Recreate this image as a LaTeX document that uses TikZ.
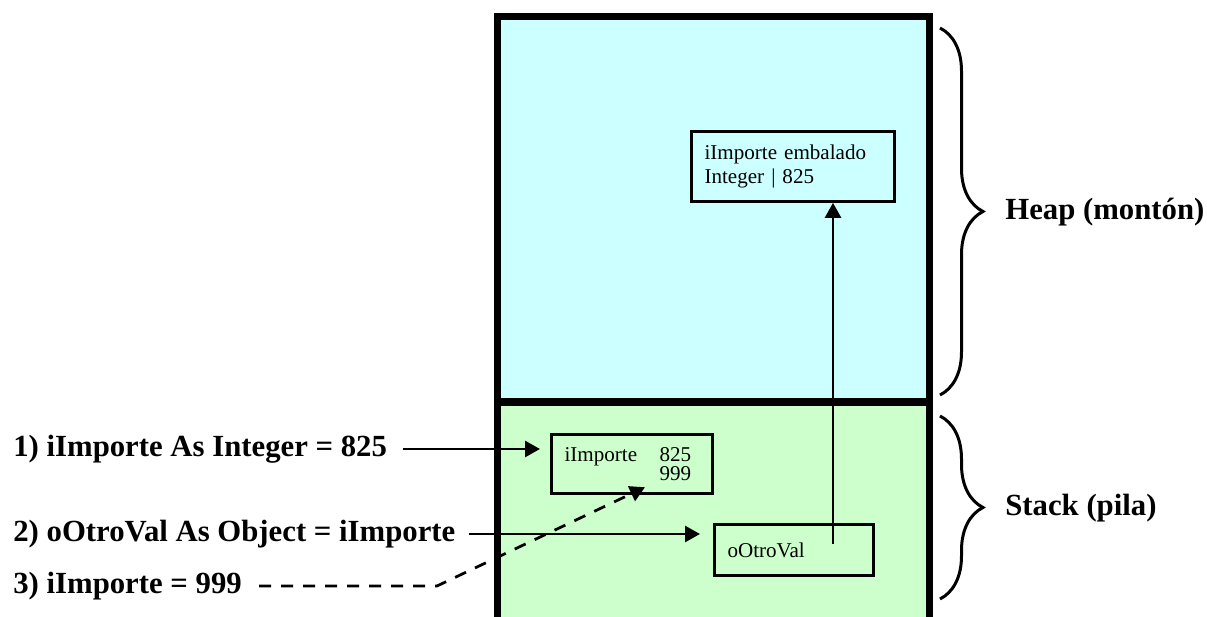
\documentclass[tikz,border=0pt]{standalone}
\usepackage{fontspec}
\setmainfont{Liberation Serif}
\usetikzlibrary{arrows.meta,decorations.pathreplacing}
\definecolor{heapcyan}{RGB}{204,255,255}
\definecolor{stackgreen}{RGB}{204,255,204}

\begin{document}
\begin{tikzpicture}[x=0.02cm,y=-0.02cm,
 region/.style={draw,line width=0.14cm,minimum width=8.64cm,inner sep=0pt},
 cell/.style={draw,line width=0.06cm,inner sep=0.26cm,align=left,font=\fontsize{12}{14}\selectfont},
 lab/.style={anchor=west,inner sep=0pt,font=\fontsize{17.5}{20}\selectfont\bfseries},
 arr/.style={-{Triangle[length=0.3cm,width=0.32cm]},line width=0.055cm},
 brc/.style={decorate,decoration={brace,amplitude=0.86cm},line width=0.06cm}]
\useasboundingbox (0,0) rectangle (1207,617);
% memory regions
\node[region,fill=stackgreen,minimum height=4.56cm] (stack) at (713.5,516) {};
\node[region,fill=heapcyan,minimum height=7.71cm] (heap) at (713.5,209.25) {};
% boxes
\node[cell,minimum width=4.06cm,minimum height=1.24cm,text width=3.54cm] (embal) at (793,166.5) {iImporte embalado\\Integer | 825};
\node[cell,minimum width=3.22cm,minimum height=1.02cm,text width=2.7cm,font=\fontsize{12}{11}\selectfont] (imp) at (632,464) {\makebox[1.9cm][l]{iImporte}825\\\makebox[1.9cm]{}999};
\node[cell,minimum width=3.18cm,minimum height=1.02cm,text width=2.66cm] (otroval) at (794,550) {oOtroVal};
% code lines
\node[lab] (decl) at (13,449) {1) iImporte As Integer = 825};
\node[lab] (boxing) at (13,534) {2) oOtroVal As Object = iImporte};
\node[lab] (assign) at (13,586) {3) iImporte = 999};
\node[lab] (heaplab) at (1005,212) {Heap (montón)};
\node[lab] (stacklab) at (1005,508) {Stack (pila)};
\coordinate (ref) at (833,544);
\coordinate (bend) at (437,586);
\draw[arr] ([xshift=0.32cm]decl.east) -- ([xshift=-0.2cm]decl.east -| imp.west);
\draw[arr] ([xshift=0.26cm]boxing.east) -- ([xshift=-0.26cm]boxing.east -| otroval.west);
\draw[arr,dash pattern=on 0.24cm off 0.2cm] ([xshift=0.34cm]assign.east) -- (bend) -- ([xshift=0.26cm,yshift=0.16cm]imp.south);
\draw[arr] (ref) -- (ref |- embal.south);
% braces
\draw[brc] (940,28) -- (940,395);
\draw[brc] (940,416) -- (940,599);
\end{tikzpicture}
\end{document}
